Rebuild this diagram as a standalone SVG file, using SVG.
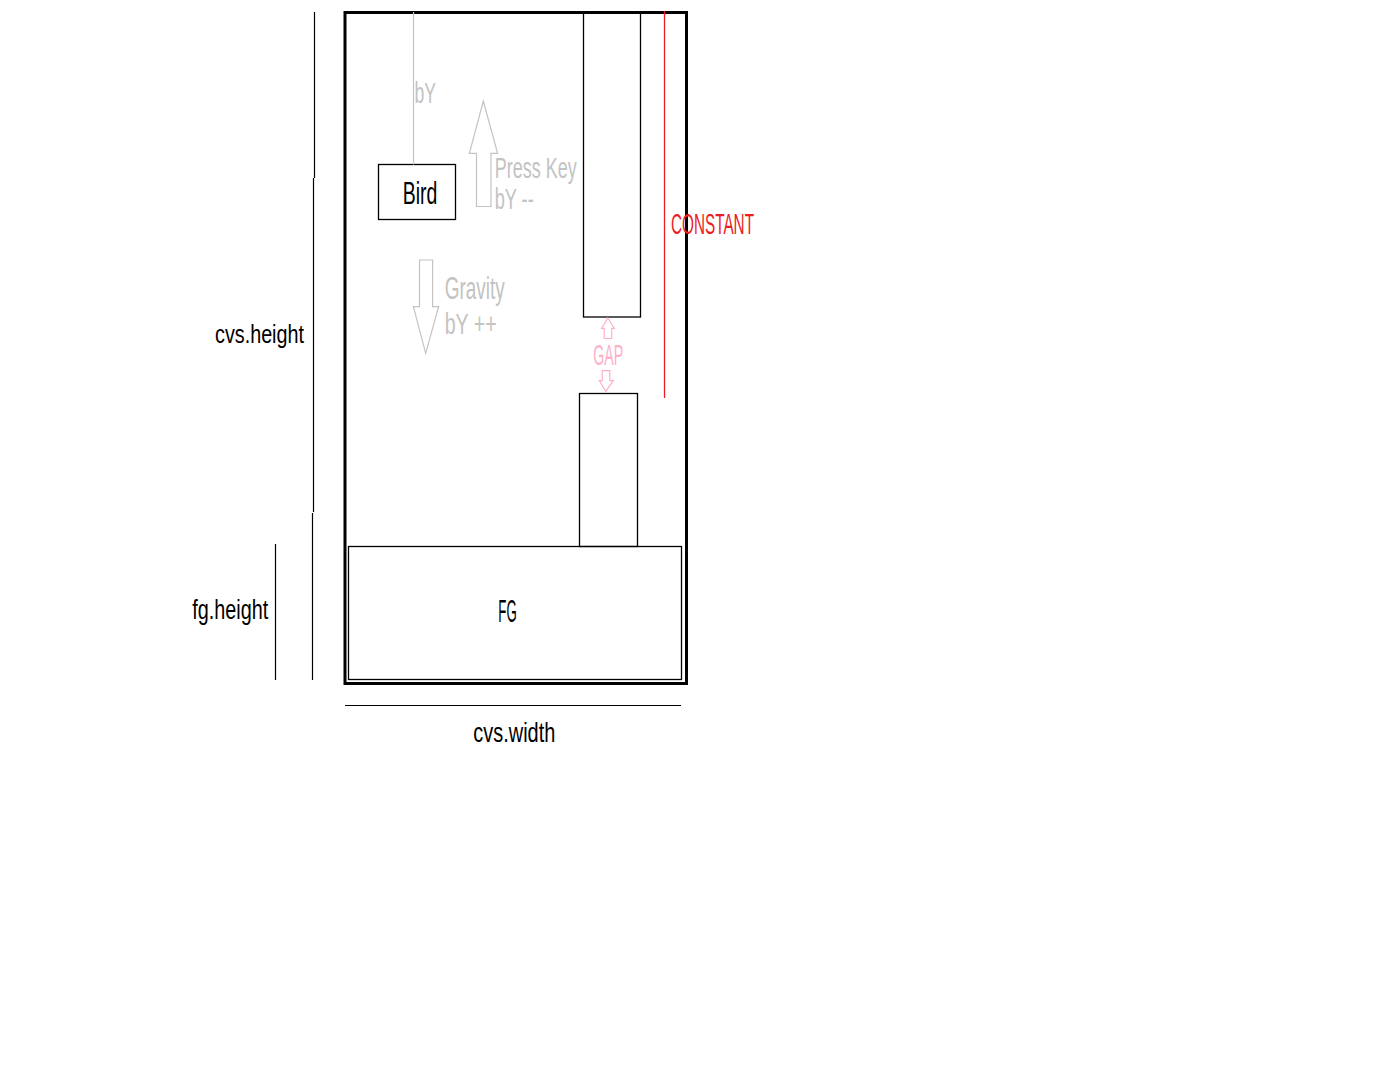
<svg xmlns="http://www.w3.org/2000/svg" width="1400" height="1071" viewBox="0 0 1400 1071">
<style>
text{font-family:"Liberation Sans","DejaVu Sans",sans-serif;}
.k{fill:#000;}
.g{fill:#c3c3c3;}
.p{fill:#ffaec9;}
.r{fill:#ed1c24;}
.box{fill:none;stroke:#000;stroke-width:1.3;}
.dim{stroke:#000;stroke-width:1.2;fill:none;}
.ga{fill:none;stroke:#c3c3c3;stroke-width:1.2;}
.pa{fill:none;stroke:#ffaec9;stroke-width:1.2;}
</style>
<rect width="1400" height="1071" fill="#fff"/>
<g id="canvas">
<rect x="345" y="12.5" width="341.5" height="671" fill="none" stroke="#000" stroke-width="3"/>
</g>
<g id="top-pipe"><rect class="box" x="583.5" y="12" width="57" height="305"/></g>
<g id="bottom-pipe"><rect class="box" x="579.5" y="393.5" width="58" height="153"/></g>
<g id="fg">
<rect class="box" x="348.5" y="546.5" width="333" height="133"/>
<text class="k" x="498.3" y="621.5" font-size="31" textLength="18.4" lengthAdjust="spacingAndGlyphs">FG</text>
</g>
<g id="bird">
<rect class="box" x="378.5" y="164.5" width="77" height="55"/>
<text class="k" x="402.7" y="204" font-size="32" textLength="34.6" lengthAdjust="spacingAndGlyphs">Bird</text>
</g>
<g id="connectors">
<line x1="413.5" y1="12" x2="413.5" y2="164.5" stroke="#c3c3c3" stroke-width="1.2"/>
<polygon class="ga" points="483.3,101 497.6,153.3 491,153.3 491,206.5 476.5,206.5 476.5,153.3 469.4,153.3"/>
<polygon class="ga" points="419.5,260 432.6,260 432.6,306.7 438.6,306.7 425.7,353.3 413.4,306.7 419.5,306.7"/>
<polygon class="pa" points="607.8,318 614.3,328.3 611.7,328.3 611.7,338.5 604.2,338.5 604.2,328.3 601.7,328.3"/>
<polygon class="pa" points="602.2,370.7 609.8,370.7 609.8,380.7 613.3,380.7 605.8,391.3 599.4,380.7 602.2,380.7"/>
<line x1="664.5" y1="11" x2="664.5" y2="398" stroke="#ed1c24" stroke-width="1.3"/>
<polyline class="dim" points="314.5,12 314.5,178"/>
<polyline class="dim" points="313.5,178 313.5,512"/>
<polyline class="dim" points="312.5,513 312.5,680"/>
<line class="dim" x1="275.5" y1="544" x2="275.5" y2="680"/>
<line class="dim" x1="345" y1="705.5" x2="681" y2="705.5"/>
</g>
<g id="labels">
<text class="g" x="414.5" y="102.7" font-size="29" textLength="21.5" lengthAdjust="spacingAndGlyphs">bY</text>
<text class="g" x="494.7" y="178.3" font-size="30" textLength="82" lengthAdjust="spacingAndGlyphs">Press Key</text>
<text class="g" x="494.7" y="209.3" font-size="30" textLength="39" lengthAdjust="spacingAndGlyphs">bY --</text>
<text class="g" x="444.7" y="299.3" font-size="31" textLength="60" lengthAdjust="spacingAndGlyphs">Gravity</text>
<text class="g" x="444.7" y="334.3" font-size="30" textLength="52" lengthAdjust="spacingAndGlyphs">bY ++</text>
<text class="p" x="593.3" y="365" font-size="30" textLength="30" lengthAdjust="spacingAndGlyphs">GAP</text>
<text class="r" x="671" y="234.3" font-size="30" textLength="83" lengthAdjust="spacingAndGlyphs">CONSTANT</text>
<text class="k" x="215" y="343.3" font-size="26" textLength="89" lengthAdjust="spacingAndGlyphs">cvs.height</text>
<text class="k" x="192.3" y="619.3" font-size="27" textLength="76" lengthAdjust="spacingAndGlyphs">fg.height</text>
<text class="k" x="473.3" y="742.3" font-size="28" textLength="82" lengthAdjust="spacingAndGlyphs">cvs.width</text>
</g>
</svg>
